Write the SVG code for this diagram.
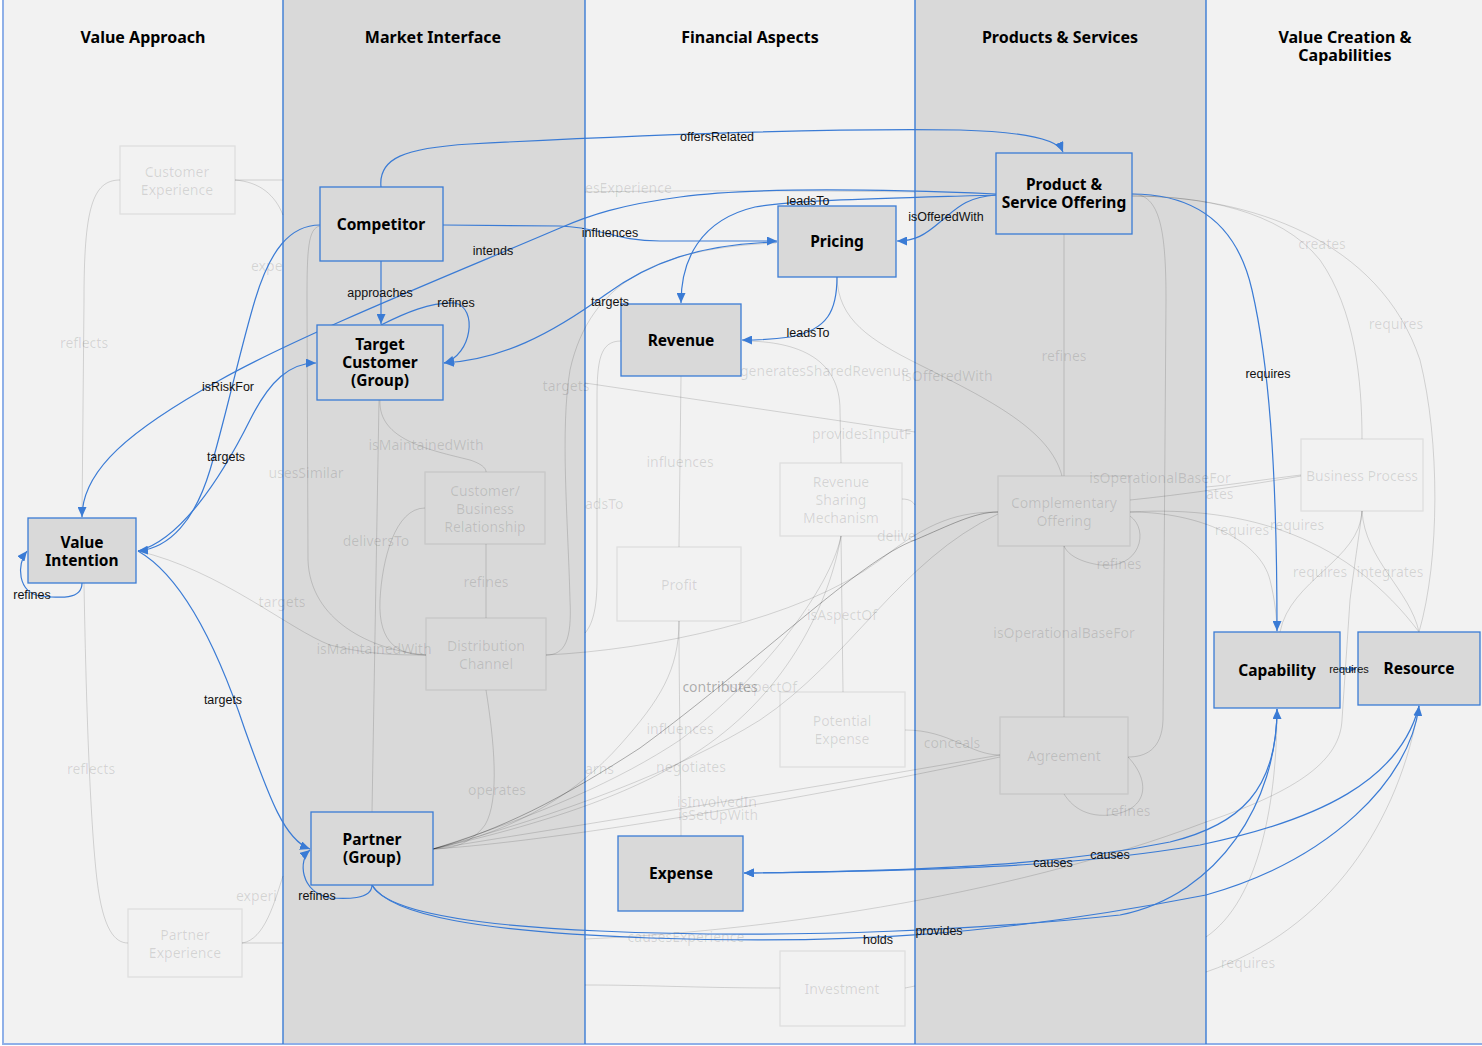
<svg xmlns="http://www.w3.org/2000/svg" width="1482" height="1046" viewBox="0 0 1482 1046">
<style>
.ll{fill:#f2f2f2}.ld{fill:#d9d9d9}
.lb{stroke:#3a7bd5;stroke-width:1.4}
.lo{stroke:#8fb0e8;stroke-width:2}
.t{font-family:"Noto Sans","Open Sans",sans-serif;font-weight:700;font-size:16px;fill:#000;text-anchor:middle;dominant-baseline:central}
.n rect{fill:#d9d9d9;stroke:#3a7bd5;stroke-width:1.3}
.n text{font-family:"Noto Sans","Open Sans",sans-serif;font-weight:700;font-size:15.5px;fill:#000;text-anchor:middle;dominant-baseline:central}
.g rect{fill:none;stroke:#000;stroke-opacity:.08;stroke-width:1.3}
.g text,.fl{font-family:"Noto Sans","Open Sans",sans-serif;font-size:14px;fill:#000;fill-opacity:.13;text-anchor:middle;dominant-baseline:central}
.s{text-anchor:start}
.fd{fill-opacity:.3}
.fe{fill:none;stroke:#000;stroke-opacity:.14;stroke-width:1}
.fk{stroke-opacity:.3}
.be{fill:none;stroke:#3a7bd5;stroke-width:1.2;marker-end:url(#a)}
.el{font-family:"Liberation Sans",Arial,sans-serif;font-size:12.5px;fill:#111;text-anchor:middle;dominant-baseline:central}
</style>
<defs>
<marker id="a" markerWidth="10" markerHeight="9" refX="10" refY="4.5" orient="auto" markerUnits="userSpaceOnUse"><path d="M0,0 L10,4.5 L0,9 z" fill="#3a7bd5"/></marker>
<marker id="s" markerWidth="7" markerHeight="7" refX="7" refY="3.5" orient="auto" markerUnits="userSpaceOnUse"><path d="M0,0 L7,3.5 L0,7 z" fill="#3a7bd5"/></marker>
</defs>

<g id="lanes">
<rect class="ll" x="3" y="0" width="280" height="1043"/>
<rect class="ld" x="283" y="0" width="302" height="1043"/>
<rect class="ll" x="585" y="0" width="330" height="1043"/>
<rect class="ld" x="915" y="0" width="291" height="1043"/>
<rect class="ll" x="1206" y="0" width="276" height="1043"/>
<line class="lo" x1="3" y1="0" x2="3" y2="1044"/>
<line class="lo" x1="2" y1="1044" x2="1482" y2="1044"/>
<line class="lb" x1="283" y1="0" x2="283" y2="1044"/>
<line class="lb" x1="585" y1="0" x2="585" y2="1044"/>
<line class="lb" x1="915" y1="0" x2="915" y2="1044"/>
<line class="lb" x1="1206" y1="0" x2="1206" y2="1044"/>
<text class="t" x="143" y="37">Value Approach</text>
<text class="t" x="433" y="37">Market Interface</text>
<text class="t" x="750" y="37">Financial Aspects</text>
<text class="t" x="1060" y="37">Products &amp; Services</text>
<text class="t" x="1345" y="37">Value Creation &amp;</text>
<text class="t" x="1345" y="55">Capabilities</text>
</g>

<g id="faded-connectors">
<path class="fe" d="M120,180 C92,180 84,210 84,300 L82,518"/>
<path class="fe" d="M84,583 C86,700 90,820 97,880 C103,930 115,943 128,943"/>
<path class="fe" d="M235,180 L283,180"/>
<path class="fe" d="M235,180 C260,182 275,195 283,215"/>
<path class="fe" d="M242,943 L283,943"/>
<path class="fe" d="M242,943 C265,940 275,900 283,876"/>
<path class="fe" d="M320,226 C308,228 307,250 307,300 L308,560 C310,620 370,650 426,655"/>
<path class="fe" d="M379,400 L372,812"/>
<path class="fe" d="M380,400 C378,440 430,450 470,460 C485,465 486,470 486,472"/>
<path class="fe" d="M425,508 C395,508 382,560 380,600 C378,645 400,655 426,655"/>
<path class="fe" d="M138,551 C220,570 290,630 330,645 C370,655 400,655 426,655"/>
<path class="fe" d="M486,544 L486,618"/>
<path class="fe" d="M546,655 C565,655 572,640 570,600 C568,520 560,430 570,370 C590,280 660,248 776,243"/>
<path class="fe" d="M546,655 C650,650 800,620 880,560 C930,520 960,512 998,512"/>
<path class="fe" d="M486,690 C494,740 500,800 485,825 C470,845 450,849 433,849"/>
<path class="fe fk" d="M433,849 C500,830 560,800 640,748 C760,660 860,560 915,540 C950,525 975,512 998,512"/>
<path class="fe" d="M433,849 C520,830 580,790 620,745 C660,700 679,670 679,621"/>
<path class="fe" d="M433,849 C540,815 620,780 680,740 C760,680 830,590 841,536"/>
<path class="fe" d="M433,849 C560,820 640,790 700,750 C790,690 830,600 841,536"/>
<path class="fe" d="M433,849 C560,815 680,770 760,720 C850,660 900,560 998,514"/>
<path class="fe" d="M433,849 C550,830 800,790 1000,755"/>
<path class="fe" d="M433,849 C550,842 800,800 1000,757"/>
<path class="fe" d="M681,376 L679,547"/>
<path class="fe" d="M679,621 C679,700 681,780 681,836"/>
<path class="fe" d="M743,341 C800,341 840,360 840,410 L841,463"/>
<path class="fe" d="M621,341 C600,341 597,360 597,400 L597,580 C597,610 592,625 585,633"/>
<path class="fe" d="M585,383 L915,432"/>
<path class="fe" d="M585,192 C700,190 850,191 915,192"/>
<path class="fe" d="M902,499 C910,499 913,502 915,505"/>
<path class="fe" d="M841,536 L843,692"/>
<path class="fe" d="M837,277 C838,320 870,340 920,365 C990,400 1050,430 1062,476"/>
<path class="fe" d="M905,730 C950,730 970,755 1000,755"/>
<path class="fe" d="M780,988 C700,988 650,985 585,985"/>
<path class="fe" d="M905,988 L915,986"/>
<path class="fe" d="M585,939 C750,932 1000,900 1206,822 C1300,790 1340,760 1342,720 L1350,600 C1355,560 1360,530 1362,511"/>
<path class="fe" d="M1206,937 C1260,900 1277,800 1277,710"/>
<path class="fe" d="M1206,972 C1330,930 1400,820 1419,705"/>
<path class="fe" d="M1132,196 C1200,196 1280,210 1320,260 C1355,310 1362,380 1362,439"/>
<path class="fe" d="M1132,196 C1250,196 1380,240 1420,360 C1440,440 1440,560 1419,632"/>
<path class="fe" d="M1132,194 C1160,194 1166,230 1166,300 L1163,720 C1162,750 1145,757 1128,757"/>
<path class="fe" d="M1064,234 L1064,476"/>
<path class="fe" d="M1064,546 L1064,717"/>
<path class="fe" d="M1130,516 C1150,530 1140,570 1100,565 C1080,562 1068,555 1064,546"/>
<path class="fe" d="M1128,757 C1150,780 1150,810 1110,815 C1080,818 1068,800 1064,794"/>
<path class="fe" d="M1130,512 C1200,512 1260,540 1270,580 C1275,600 1277,620 1277,632"/>
<path class="fe" d="M1130,512 C1250,505 1350,540 1419,632"/>
<path class="fe" d="M1301,475 C1260,480 1230,485 1206,487"/>
<path class="fe" d="M1301,476 C1250,485 1180,495 1130,500"/>
<path class="fe" d="M1362,511 C1360,560 1290,580 1280,632"/>
<path class="fe" d="M1362,511 C1365,560 1410,590 1419,632"/>
</g>

<g id="faded-nodes">
<g id="customer-experience" class="g"><rect x="120" y="146" width="115" height="68"/><text x="177" y="171">Customer</text><text x="177" y="189">Experience</text></g>
<g id="partner-experience" class="g"><rect x="128" y="909" width="114" height="68"/><text x="185" y="934">Partner</text><text x="185" y="952">Experience</text></g>
<g id="customer-business-relationship" class="g"><rect x="425" y="472" width="120" height="72"/><text x="485" y="490">Customer/</text><text x="485" y="508">Business</text><text x="485" y="526">Relationship</text></g>
<g id="distribution-channel" class="g"><rect x="426" y="618" width="120" height="72"/><text x="486" y="645">Distribution</text><text x="486" y="663">Channel</text></g>
<g id="revenue-sharing-mechanism" class="g"><rect x="780" y="463" width="122" height="73"/><text x="841" y="481">Revenue</text><text x="841" y="499">Sharing</text><text x="841" y="517">Mechanism</text></g>
<g id="profit" class="g"><rect x="617" y="547" width="124" height="74"/><text x="679" y="584">Profit</text></g>
<g id="potential-expense" class="g"><rect x="780" y="692" width="125" height="75"/><text x="842" y="720">Potential</text><text x="842" y="738">Expense</text></g>
<g id="investment" class="g"><rect x="780" y="951" width="125" height="75"/><text x="842" y="988">Investment</text></g>
<g id="complementary-offering" class="g"><rect x="998" y="476" width="132" height="70"/><text x="1064" y="502">Complementary</text><text x="1064" y="520">Offering</text></g>
<g id="agreement" class="g"><rect x="1000" y="717" width="128" height="77"/><text x="1064" y="755">Agreement</text></g>
<g id="business-process" class="g"><rect x="1301" y="439" width="122" height="72"/><text x="1362" y="475">Business Process</text></g>
</g>

<g id="faded-labels">
<text class="fl s" x="251" y="265">expe</text>
<text class="fl" x="84" y="342">reflects</text>
<text class="fl" x="91" y="768">reflects</text>
<text class="fl s" x="236" y="895">experi</text>
<text class="fl" x="306" y="472">usesSimilar</text>
<text class="fl" x="426" y="444">isMaintainedWith</text>
<text class="fl" x="376" y="540">deliversTo</text>
<text class="fl" x="486" y="581">refines</text>
<text class="fl" x="282" y="601">targets</text>
<text class="fl" x="374" y="648">isMaintainedWith</text>
<text class="fl" x="497" y="789">operates</text>
<text class="fl" x="566" y="385">targets</text>
<text class="fl s" x="585" y="187">esExperience</text>
<text class="fl s" x="740" y="370">generatesSharedRevenue</text>
<text class="fl" x="947" y="375">isOfferedWith</text>
<text class="fl s" x="812" y="433">providesInputF</text>
<text class="fl" x="680" y="461">influences</text>
<text class="fl s" x="585" y="503">adsTo</text>
<text class="fl s" x="877" y="535">delive</text>
<text class="fl" x="842" y="614">isAspectOf</text>
<text class="fl" x="762" y="686">isAspectOf</text>
<text class="fl fd" x="720" y="686">contributes</text>
<text class="fl" x="680" y="728">influences</text>
<text class="fl s" x="585" y="768">arns</text>
<text class="fl" x="691" y="766">negotiates</text>
<text class="fl" x="717" y="801">isInvolvedIn</text>
<text class="fl" x="718" y="814">isSetUpWith</text>
<text class="fl" x="686" y="936">causesExperience</text>
<text class="fl" x="952" y="742">conceals</text>
<text class="fl" x="1064" y="355">refines</text>
<text class="fl" x="1160" y="477">isOperationalBaseFor</text>
<text class="fl s" x="1206" y="493">ates</text>
<text class="fl" x="1119" y="563">refines</text>
<text class="fl" x="1064" y="632">isOperationalBaseFor</text>
<text class="fl" x="1128" y="810">refines</text>
<text class="fl" x="1322" y="243">creates</text>
<text class="fl" x="1396" y="323">requires</text>
<text class="fl" x="1242" y="529">requires</text>
<text class="fl" x="1297" y="524">requires</text>
<text class="fl" x="1320" y="571">requires</text>
<text class="fl" x="1390" y="571">integrates</text>
<text class="fl" x="1248" y="962">requires</text>
</g>

<g id="connectors">
<path class="be" d="M381,187 C378,158 405,148 470,144 C600,137 800,128 960,130 C1030,132 1058,140 1063,152"/>
<path class="be" d="M443,225 L560,226 C600,227 615,241 660,241 L777,241"/>
<path class="be" d="M996,194 C900,190 760,186 680,197 C620,205 590,215 560,228 C450,275 300,335 220,380 C130,430 82,470 82,517"/>
<path class="be" d="M320,225 C290,225 270,250 255,300 C240,350 225,420 210,470 C195,520 170,548 138,551"/>
<path class="be" d="M138,551 C180,540 220,480 250,420 C270,380 290,363 316,363"/>
<path class="be" d="M381,261 L381,324"/>
<path class="be" d="M381,325 C405,313 430,302 455,303 C478,308 472,355 444,363"/>
<path class="be" d="M777,242 C700,244 650,262 605,295 C550,335 500,360 444,363"/>
<path class="be" d="M996,195 C900,198 790,200 755,207 C700,220 681,260 681,303"/>
<path class="be" d="M996,195 C965,197 955,210 940,222 C925,235 915,241 897,241"/>
<path class="be" d="M837,277 C837,310 828,330 790,337 C770,340 760,340 742,340"/>
<path class="be" d="M1132,194 C1185,194 1235,215 1252,290 C1268,360 1277,460 1277,631"/>
<path class="be" d="M82,583 C82,600 60,598 40,596 C18,592 16,565 27,551"/>
<path class="be" d="M138,551 C180,575 215,640 245,730 C270,800 285,840 310,849"/>
<path class="be" d="M372,885 C372,900 345,899 330,898 C300,892 298,860 310,850"/>
<path class="be" d="M1277,709 C1277,790 1240,825 1170,842 C1090,858 1000,870 744,873"/>
<path class="be" d="M1419,706 C1400,780 1320,820 1200,845 C1100,862 1000,870 744,873"/>
<path class="be" d="M372,885 C385,910 460,925 600,931 C800,940 1000,928 1120,915 C1220,895 1277,800 1277,709"/>
<path class="be" d="M372,885 C390,915 480,932 650,938 C850,945 1000,935 1206,895 C1330,860 1410,780 1419,706"/>
<path d="M1340,669 L1356,669" fill="none" stroke="#3a7bd5" stroke-width="1.2" marker-end="url(#s)"/>
</g>

<g id="nodes">
<g id="competitor" class="n"><rect x="320" y="187" width="123" height="74"/><text x="381" y="224">Competitor</text></g>
<g id="target-customer" class="n"><rect x="317" y="325" width="126" height="75"/><text x="380" y="344">Target</text><text x="380" y="362">Customer</text><text x="380" y="380">(Group)</text></g>
<g id="value-intention" class="n"><rect x="28" y="518" width="108" height="65"/><text x="82" y="542">Value</text><text x="82" y="560">Intention</text></g>
<g id="partner" class="n"><rect x="311" y="812" width="122" height="73"/><text x="372" y="839">Partner</text><text x="372" y="857">(Group)</text></g>
<g id="revenue" class="n"><rect x="621" y="304" width="120" height="72"/><text x="681" y="340">Revenue</text></g>
<g id="pricing" class="n"><rect x="778" y="206" width="118" height="71"/><text x="837" y="241">Pricing</text></g>
<g id="product-service-offering" class="n"><rect x="996" y="153" width="136" height="81"/><text x="1064" y="184">Product &amp;</text><text x="1064" y="202">Service Offering</text></g>
<g id="expense" class="n"><rect x="618" y="836" width="125" height="75"/><text x="681" y="873">Expense</text></g>
<g id="capability" class="n"><rect x="1214" y="632" width="126" height="76"/><text x="1277" y="670">Capability</text></g>
<g id="resource" class="n"><rect x="1358" y="632" width="122" height="73"/><text x="1419" y="668">Resource</text></g>
</g>

<g id="connector-labels">
<text class="el" x="717" y="137">offersRelated</text>
<text class="el" x="808" y="201">leadsTo</text>
<text class="el" x="946" y="217">isOfferedWith</text>
<text class="el" x="610" y="233">influences</text>
<text class="el" x="493" y="251">intends</text>
<text class="el" x="380" y="293">approaches</text>
<text class="el" x="456" y="303">refines</text>
<text class="el" x="610" y="302">targets</text>
<text class="el" x="808" y="333">leadsTo</text>
<text class="el" x="228" y="387">isRiskFor</text>
<text class="el" x="226" y="457">targets</text>
<text class="el" x="32" y="595">refines</text>
<text class="el" x="223" y="700">targets</text>
<text class="el" x="317" y="896">refines</text>
<text class="el" x="1268" y="374">requires</text>
<text class="el" x="1349" y="669" style="font-size:11px">requires</text>
<text class="el" x="1053" y="863">causes</text>
<text class="el" x="1110" y="855">causes</text>
<text class="el" x="939" y="931">provides</text>
<text class="el" x="878" y="940">holds</text>
</g>
</svg>
